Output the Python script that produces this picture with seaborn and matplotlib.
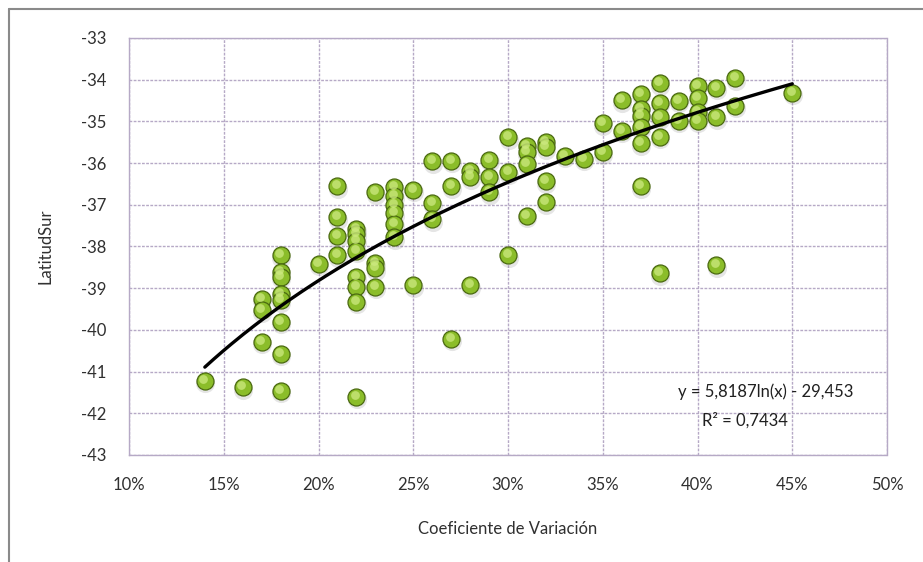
"""
Latitud Sur vs Coeficiente de Variación, scatter with log trendline.
Saves out.png.
"""

import numpy as np
import pandas as pd
import matplotlib.pyplot as plt
import matplotlib.transforms as mtransforms
from matplotlib.ticker import PercentFormatter, MultipleLocator
import seaborn as sns

# coefficient of variation (fraction) per column, with the latitudes seen at it
CV_14 = [-41.22]
CV_16 = [-41.38]
CV_17 = [-39.25, -39.53, -40.29]
CV_18 = [-38.21, -38.61, -38.73, -39.13, -39.29, -39.81, -40.57, -41.46]
CV_20 = [-38.41]
CV_21 = [-36.56, -37.30, -37.75, -38.21]
CV_22 = [-37.58, -37.70, -37.86, -38.10, -38.73, -38.97, -39.33, -41.60]
CV_23 = [-36.70, -38.40, -38.52, -38.96]
CV_24 = [-36.58, -36.78, -37.00, -37.20, -37.46, -37.78]
CV_25 = [-36.64, -38.93]
CV_26 = [-35.96, -36.96, -37.35]
CV_27 = [-35.94, -36.56, -40.21]
CV_28 = [-36.18, -36.34, -38.93]
CV_29 = [-35.92, -36.34, -36.70]
CV_30 = [-35.38, -36.22, -38.21]
CV_31 = [-35.58, -35.74, -36.02, -37.26]
CV_32 = [-35.50, -35.62, -36.44, -36.94]
CV_33 = [-35.82]
CV_34 = [-35.90]
CV_35 = [-35.04, -35.74]
CV_36 = [-34.49, -35.22]
CV_37 = [-34.34, -34.70, -34.86, -35.14, -35.53, -36.56]
CV_38 = [-34.09, -34.55, -34.90, -35.37, -38.64]
CV_39 = [-34.50, -34.98]
CV_40 = [-34.15, -34.43, -34.78, -34.98]
CV_41 = [-34.19, -34.90, -38.45]
CV_42 = [-33.96, -34.62]
CV_45 = [-34.31]

COLUMNS = {
    0.14: CV_14, 0.16: CV_16, 0.17: CV_17, 0.18: CV_18, 0.20: CV_20,
    0.21: CV_21, 0.22: CV_22, 0.23: CV_23, 0.24: CV_24, 0.25: CV_25,
    0.26: CV_26, 0.27: CV_27, 0.28: CV_28, 0.29: CV_29, 0.30: CV_30,
    0.31: CV_31, 0.32: CV_32, 0.33: CV_33, 0.34: CV_34, 0.35: CV_35,
    0.36: CV_36, 0.37: CV_37, 0.38: CV_38, 0.39: CV_39, 0.40: CV_40,
    0.41: CV_41, 0.42: CV_42, 0.45: CV_45,
}

# trendline as printed on the chart
TREND_A = 5.8187
TREND_B = -29.453
TREND_RANGE = (0.14, 0.45)
EQ_TEXT = "y = 5,8187ln(x) - 29,453"
R2_TEXT = "R² = 0,7434"

sns.set_theme(style="white")
plt.rcParams["font.family"] = ["Lato", "DejaVu Sans"]
plt.rcParams["axes.unicode_minus"] = False

df = pd.DataFrame(
    [(cv, lat) for cv, lats in COLUMNS.items() for lat in lats],
    columns=["cv", "lat"],
)

fig = plt.figure(figsize=(9.23, 5.62), dpi=100)
ax = fig.add_axes([0.1398, 0.1904, 0.8212, 0.742])

GRID = "#b6a9c6"

# soft shadow under each ball
shadow = mtransforms.offset_copy(ax.transData, fig=fig, x=0.5, y=-2.5, units="dots")
ax.scatter(df["cv"], df["lat"], s=190, color="#8c8c8c", alpha=0.22,
           linewidths=0, transform=shadow, zorder=2)

sns.scatterplot(data=df, x="cv", y="lat", ax=ax, s=150, color="#8bbd2a",
                edgecolor="#4a6910", linewidth=0.9, zorder=3, legend=False)

# highlight to fake the 3D ball look
hl = mtransforms.offset_copy(ax.transData, fig=fig, x=-1.5, y=2.0, units="dots")
ax.scatter(df["cv"], df["lat"], s=40, color="#cdea80", alpha=0.75,
           linewidths=0, transform=hl, zorder=4)

xs = np.linspace(*TREND_RANGE, 200)
sns.lineplot(x=xs, y=TREND_A * np.log(xs) + TREND_B, ax=ax, color="black",
             linewidth=2.4, zorder=5)

ax.set_xlim(0.10, 0.50)
ax.set_ylim(-43, -33)
ax.xaxis.set_major_locator(MultipleLocator(0.05))
ax.yaxis.set_major_locator(MultipleLocator(1))
ax.xaxis.set_major_formatter(PercentFormatter(xmax=1, decimals=0))

ax.grid(True, color=GRID, linestyle=(0, (2, 1)), linewidth=1)
for sp in ax.spines.values():
    sp.set_color(GRID)
    sp.set_linestyle((0, (2, 1)))
    sp.set_linewidth(1)

ax.tick_params(axis="both", length=0, labelsize=12, labelcolor="#303030")
ax.tick_params(axis="y", pad=16)
ax.tick_params(axis="x", pad=16)
ax.set_xlabel("Coeficiente de Variación", fontsize=12, color="#303030", labelpad=20)
ax.set_ylabel("LatitudSur", fontsize=12, color="#303030", labelpad=20)

ax.text(0.436, -41.49, EQ_TEXT, ha="center", va="center", fontsize=12, color="#202020")
ax.text(0.425, -42.16, R2_TEXT, ha="center", va="center", fontsize=12, color="#202020")

# outer chart frame (top and left edge visible in the original crop)
fig.add_artist(plt.Line2D([0.0098, 1.0], [0.984, 0.984], color="#8a8a8a", lw=1.5))
fig.add_artist(plt.Line2D([0.0098, 0.0098], [0.0, 0.984], color="#8a8a8a", lw=1.5))

fig.savefig("out.png", dpi=100)
plt.close(fig)
